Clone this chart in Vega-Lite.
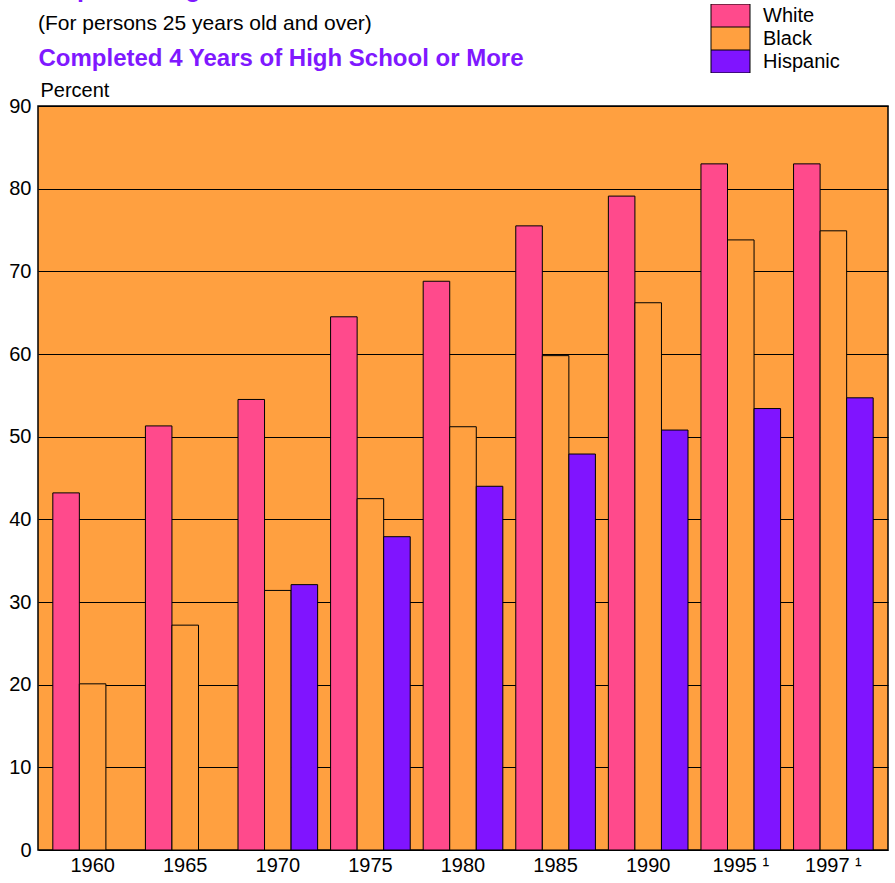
{
  "$schema": "https://vega.github.io/schema/vega-lite/v6.json",
  "autosize": "none",
  "width": 850,
  "height": 744,
  "padding": {"left": 38, "top": 106, "right": 7, "bottom": 33},
  "background": "white",
  "title": {
    "text": "Hispanic Origin",
    "subtitle": "(For persons 25 years old and over)",
    "anchor": "start",
    "frame": "group",
    "font": "Liberation Sans",
    "fontSize": 25,
    "fontWeight": "bold",
    "color": "#8018FF",
    "subtitleFont": "Liberation Sans",
    "subtitleFontSize": 21,
    "subtitleColor": "black",
    "subtitlePadding": 11,
    "offset": -30
  },
  "data": {
    "values": [
      {"Year": "1960", "Race": "White", "Percent": 43.2},
      {"Year": "1960", "Race": "Black", "Percent": 20.1},
      {"Year": "1965", "Race": "White", "Percent": 51.3},
      {"Year": "1965", "Race": "Black", "Percent": 27.2},
      {"Year": "1970", "Race": "White", "Percent": 54.5},
      {"Year": "1970", "Race": "Black", "Percent": 31.4},
      {"Year": "1970", "Race": "Hispanic", "Percent": 32.1},
      {"Year": "1975", "Race": "White", "Percent": 64.5},
      {"Year": "1975", "Race": "Black", "Percent": 42.5},
      {"Year": "1975", "Race": "Hispanic", "Percent": 37.9},
      {"Year": "1980", "Race": "White", "Percent": 68.8},
      {"Year": "1980", "Race": "Black", "Percent": 51.2},
      {"Year": "1980", "Race": "Hispanic", "Percent": 44.0},
      {"Year": "1985", "Race": "White", "Percent": 75.5},
      {"Year": "1985", "Race": "Black", "Percent": 59.8},
      {"Year": "1985", "Race": "Hispanic", "Percent": 47.9},
      {"Year": "1990", "Race": "White", "Percent": 79.1},
      {"Year": "1990", "Race": "Black", "Percent": 66.2},
      {"Year": "1990", "Race": "Hispanic", "Percent": 50.8},
      {"Year": "1995", "Race": "White", "Percent": 83.0},
      {"Year": "1995", "Race": "Black", "Percent": 73.8},
      {"Year": "1995", "Race": "Hispanic", "Percent": 53.4},
      {"Year": "1997", "Race": "White", "Percent": 83.0},
      {"Year": "1997", "Race": "Black", "Percent": 74.9},
      {"Year": "1997", "Race": "Hispanic", "Percent": 54.7}
    ]
  },
  "mark": {"type": "bar", "stroke": "black", "strokeWidth": 1},
  "encoding": {
    "x": {
      "field": "Year",
      "type": "nominal",
      "scale": {"paddingInner": 0.14, "paddingOuter": 0.16},
      "axis": {
        "title": "Completed 4 Years of High School or More",
        "titleFont": "Liberation Sans",
        "titleFontSize": 24,
        "titleFontWeight": "bold",
        "titleColor": "#8018FF",
        "titleAlign": "left",
        "titleAnchor": "start",
        "titleBaseline": "alphabetic",
        "titleX": 0,
        "titleY": -785,
        "labelAngle": 0,
        "labelFont": "Liberation Sans",
        "labelFontSize": 20,
        "labelColor": "black",
        "labelPadding": 5,
        "labelExpr": "datum.value == '1995' || datum.value == '1997' ? '     ' + datum.value + '   \u00b9' : datum.value",
        "ticks": false,
        "domain": false
      }
    },
    "xOffset": {
      "field": "Race",
      "type": "nominal",
      "sort": ["White", "Black", "Hispanic"],
      "scale": {"domain": ["White", "Black", "Hispanic"], "paddingInner": 0, "paddingOuter": 0}
    },
    "y": {
      "field": "Percent",
      "type": "quantitative",
      "scale": {"domain": [0, 90], "nice": false},
      "axis": {
        "title": "Percent",
        "titleFont": "Liberation Sans",
        "titleFontSize": 20,
        "titleFontWeight": "normal",
        "titleColor": "black",
        "titleAngle": 0,
        "titleAlign": "left",
        "titleBaseline": "alphabetic",
        "titleX": 2,
        "titleY": -10,
        "values": [0, 10, 20, 30, 40, 50, 60, 70, 80, 90],
        "labelFont": "Liberation Sans",
        "labelFontSize": 20,
        "labelColor": "black",
        "labelPadding": 7,
        "ticks": false,
        "domain": false,
        "grid": true,
        "gridColor": "black",
        "gridWidth": 1,
        "gridOpacity": 1
      }
    },
    "fill": {
      "field": "Race",
      "type": "nominal",
      "sort": ["White", "Black", "Hispanic"],
      "scale": {"domain": ["White", "Black", "Hispanic"], "range": ["#FF4A8C", "#FFA040", "#8014FF"]},
      "legend": {
        "title": null,
        "orient": "none",
        "legendX": 672,
        "legendY": -102,
        "padding": 0,
        "rowPadding": 0,
        "clipHeight": 23,
        "symbolType": "M-0.957,-1H2.435V1H-0.957Z",
        "symbolSize": 529,
        "symbolStrokeColor": "black",
        "symbolStrokeWidth": 1,
        "symbolOpacity": 1,
        "labelFont": "Liberation Sans",
        "labelFontSize": 20,
        "labelColor": "black",
        "labelOffset": 29
      }
    }
  },
  "config": {
    "view": {"fill": "#FFA040", "stroke": "black", "strokeWidth": 1.5}
  }
}
